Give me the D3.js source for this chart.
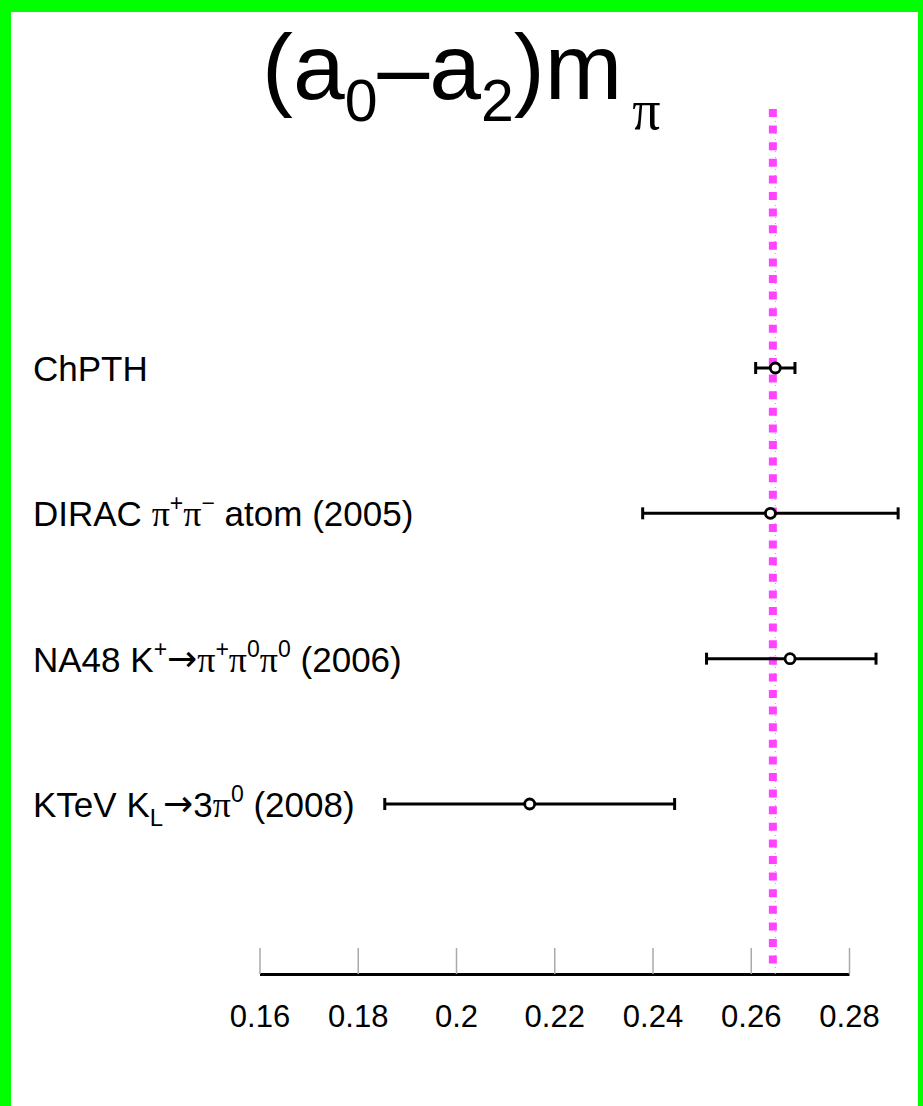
<!DOCTYPE html>
<html>
<head>
<meta charset="utf-8">
<script src="https://cdn.jsdelivr.net/npm/d3@7"></script>
<style>
  body { margin: 0; background: #fff; }
  svg { display: block; }
</style>
</head>
<body>
<div id="chart"></div>
<script>
// measurements, top to bottom
var labels = ["ChPTH", "DIRAC π^{+}π^{−} atom (2005)", "NA48 K^{+}→π^{+}π^{0}π^{0} (2006)", "KTeV K_{L}→3π^{0} (2008)"];
var values = [0.265, 0.264, 0.268, 0.215];
var errLow = [0.004, 0.026, 0.017, 0.0295];
var errHigh = [0.004, 0.026, 0.0175, 0.0295];

var refValue = 0.2645;   // magenta dashed line
var gridValue = 0.265;   // faint dotted line
var tickValues = [0.16, 0.18, 0.2, 0.22, 0.24, 0.26, 0.28];
var tickLabels = ["0.16", "0.18", "0.2", "0.22", "0.24", "0.26", "0.28"];

var W = 923, H = 1106;
var axisY = 974;

var svg = d3.select("#chart").append("svg")
  .attr("width", W)
  .attr("height", H);

// green frame
svg.append("rect").attr("width", W).attr("height", H).attr("fill", "#00ff00");
svg.append("rect").attr("x", 11).attr("y", 12).attr("width", W - 11 - 5).attr("height", H).attr("fill", "#fff");

var x = d3.scaleLinear().domain([0.16, 0.28]).range([259.5, 849]);
var y = d3.scalePoint().domain(labels).range([368, 804]);

// title
var title = svg.append("text")
  .attr("x", 262)
  .attr("y", 99)
  .style("font-family", "'Liberation Sans', Arial, sans-serif")
  .style("font-size", "93px");
title.append("tspan").text("(a");
title.append("tspan").attr("y", 121).style("font-size", "59px").text("0");
title.append("tspan").attr("y", 99).text("–a");
title.append("tspan").attr("y", 121).style("font-size", "59px").text("2");
title.append("tspan").attr("y", 99).text(")m");
title.append("tspan").attr("y", 129).attr("dx", 10)
  .style("font-size", "56px").style("font-family", "'Liberation Serif', serif").text("π");

// axis
var axis = svg.append("g")
  .attr("transform", "translate(0," + axisY + ")")
  .call(d3.axisBottom(x)
    .tickValues(tickValues)
    .tickFormat(function(d, i) { return tickLabels[i]; })
    .tickSizeInner(-26)
    .tickSizeOuter(0));

axis.select(".domain").attr("stroke", "#000").attr("stroke-width", 3);
axis.selectAll(".tick line").attr("stroke", "#aaa").attr("stroke-width", 1.5);
axis.selectAll(".tick text")
  .attr("y", 53)
  .attr("dy", 0)
  .attr("fill", "#000")
  .style("font-family", "'Liberation Sans', Arial, sans-serif")
  .style("font-size", "31px");

// faint dotted line + magenta reference
svg.append("line")
  .attr("x1", x(gridValue)).attr("x2", x(gridValue))
  .attr("y1", 109).attr("y2", axisY)
  .attr("stroke", "#aaa")
  .attr("stroke-width", 1)
  .attr("stroke-dasharray", "1,5");

svg.append("line")
  .attr("x1", x(refValue)).attr("x2", x(refValue))
  .attr("y1", 109).attr("y2", 966)
  .attr("stroke", "#ff44ff")
  .attr("stroke-width", 8)
  .attr("stroke-dasharray", "8,8.6");

// labels with sup/sub markup
function addLabel(sel, str, base) {
  var re = /(\^\{[^}]*\}|_\{[^}]*\}|π|→|[^\^_π→]+)/g;
  var parts = str.match(re);
  parts.forEach(function(p) {
    var t = sel.append("tspan");
    if (p[0] == "^") {
      t.attr("y", base - 15).style("font-size", "23px").text(p.slice(2, -1));
    } else if (p[0] == "_") {
      t.attr("y", base + 9).style("font-size", "24px").text(p.slice(2, -1));
    } else if (p == "π") {
      t.attr("y", base).style("font-family", "'Liberation Serif', serif").style("font-size", "36px").text(p);
    } else if (p == "→") {
      t.attr("y", base - 1).style("font-family", "'DejaVu Sans', sans-serif").style("font-size", "36px").text(p);
    } else {
      t.attr("y", base).text(p);
    }
  });
}

labels.forEach(function(l) {
  var base = y(l) + 13;
  var t = svg.append("text")
    .attr("x", 33)
    .attr("y", base)
    .style("font-family", "'Liberation Sans', Arial, sans-serif")
    .style("font-size", "35px")
    .attr("fill", "#000");
  addLabel(t, l, base);
});

// error bars
var rows = svg.selectAll(".row")
  .data(labels)
  .enter().append("g")
  .attr("class", "row");

rows.append("line")
  .attr("x1", function(d, i) { return x(values[i] - errLow[i]); })
  .attr("x2", function(d, i) { return x(values[i] + errHigh[i]); })
  .attr("y1", function(d) { return y(d); })
  .attr("y2", function(d) { return y(d); })
  .attr("stroke", "#000")
  .attr("stroke-width", 3);

rows.append("line")
  .attr("x1", function(d, i) { return x(values[i] - errLow[i]); })
  .attr("x2", function(d, i) { return x(values[i] - errLow[i]); })
  .attr("y1", function(d) { return y(d) - 6; })
  .attr("y2", function(d) { return y(d) + 6; })
  .attr("stroke", "#000")
  .attr("stroke-width", 3);

rows.append("line")
  .attr("x1", function(d, i) { return x(values[i] + errHigh[i]); })
  .attr("x2", function(d, i) { return x(values[i] + errHigh[i]); })
  .attr("y1", function(d) { return y(d) - 6; })
  .attr("y2", function(d) { return y(d) + 6; })
  .attr("stroke", "#000")
  .attr("stroke-width", 3);

rows.append("circle")
  .attr("cx", function(d, i) { return x(values[i]); })
  .attr("cy", function(d) { return y(d); })
  .attr("r", 5)
  .attr("fill", "#fff")
  .attr("stroke", "#000")
  .attr("stroke-width", 2.8);
</script>
</body>
</html>
